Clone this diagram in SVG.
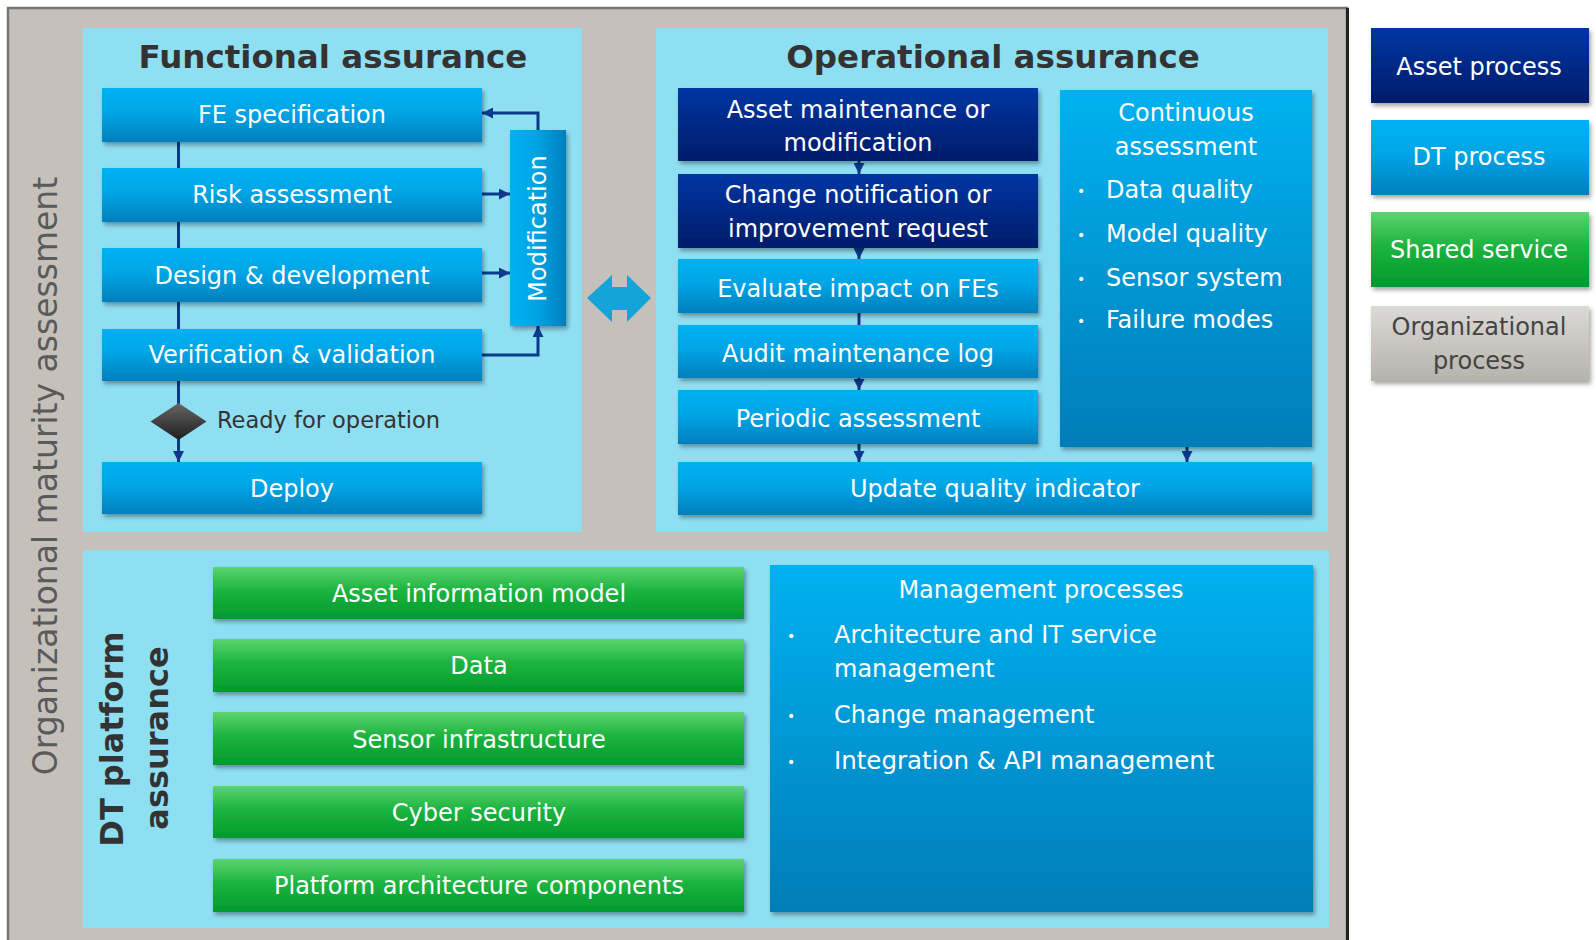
<svg xmlns="http://www.w3.org/2000/svg" width="1596" height="940" viewBox="0 0 1596 940">
<defs>
  <linearGradient id="gDT" x1="0" y1="0" x2="0" y2="1">
    <stop offset="0" stop-color="#00b2f1"/>
    <stop offset="0.45" stop-color="#00a5e6"/>
    <stop offset="1" stop-color="#007fbd"/>
  </linearGradient>
  <linearGradient id="gDTtall" x1="0" y1="0" x2="0" y2="1">
    <stop offset="0" stop-color="#00b1f0"/>
    <stop offset="1" stop-color="#007db8"/>
  </linearGradient>
  <linearGradient id="gDTh" x1="0" y1="0" x2="1" y2="0">
    <stop offset="0" stop-color="#00b2f1"/>
    <stop offset="0.45" stop-color="#00a5e6"/>
    <stop offset="1" stop-color="#007fbd"/>
  </linearGradient>
  <linearGradient id="gAsset" x1="0" y1="0" x2="0" y2="1">
    <stop offset="0" stop-color="#0036a3"/>
    <stop offset="1" stop-color="#001c6a"/>
  </linearGradient>
  <linearGradient id="gGreen" x1="0" y1="0" x2="0" y2="1">
    <stop offset="0" stop-color="#5cd470"/>
    <stop offset="0.45" stop-color="#1db43f"/>
    <stop offset="1" stop-color="#009a2e"/>
  </linearGradient>
  <linearGradient id="gGray" x1="0" y1="0" x2="0" y2="1">
    <stop offset="0" stop-color="#dcdad6"/>
    <stop offset="1" stop-color="#b6b2ac"/>
  </linearGradient>
  <linearGradient id="gDiamond" x1="0" y1="0" x2="0" y2="1">
    <stop offset="0" stop-color="#666"/>
    <stop offset="1" stop-color="#1e1e1e"/>
  </linearGradient>
  <filter id="sh" x="-10%" y="-10%" width="120%" height="130%">
    <feDropShadow dx="2" dy="3" stdDeviation="2" flood-color="#000" flood-opacity="0.35"/>
  </filter>
  <marker id="arr" viewBox="0 0 10 10" refX="10" refY="5" markerWidth="11" markerHeight="11" markerUnits="userSpaceOnUse" orient="auto">
    <path d="M0,0 L10,5 L0,10 z" fill="#0b3a8c"/>
  </marker>
</defs>
<style>
  .t{font-family:"DejaVu Sans",Verdana,sans-serif;font-size:24px;fill:#ffffff;text-anchor:middle}
  .tl{font-family:"DejaVu Sans",Verdana,sans-serif;font-size:24px;fill:#ffffff}
  .b{font-size:14px}
  .title{font-family:"DejaVu Sans",Verdana,sans-serif;font-size:32.5px;font-weight:bold;fill:#333333;text-anchor:middle}
  .dt{fill:url(#gDT);filter:url(#sh)}
  .tall{fill:url(#gDTtall);filter:url(#sh)}
  .asset{fill:url(#gAsset);filter:url(#sh)}
  .green{fill:url(#gGreen);filter:url(#sh)}
  .panel{fill:#8fdff2}
  .conn{fill:none;stroke:#0b3a8c;stroke-width:3}
</style>
<rect x="0" y="0" width="1596" height="940" fill="#ffffff"/>

<g id="outer">
  <rect x="8" y="8" width="1339" height="940" fill="#c5c1ba" stroke="#767676" stroke-width="2.5"/>
  <line x1="1347.5" y1="8" x2="1347.5" y2="940" stroke="#222" stroke-width="3"/>
  <text transform="translate(57,476) rotate(-90)" style="font-family:'DejaVu Sans',Verdana,sans-serif;font-size:33px;fill:#5a5a5a;text-anchor:middle">Organizational maturity assessment</text>
</g>

<g id="functional-panel">
  <rect class="panel" x="83" y="28" width="499" height="504"/>
  <text class="title" x="333" y="68">Functional assurance</text>
</g>
<g id="operational-panel">
  <rect class="panel" x="656" y="28" width="672" height="504"/>
  <text class="title" x="993" y="68">Operational assurance</text>
</g>
<g id="platform-panel">
  <rect class="panel" x="83" y="550" width="1246" height="378"/>
  <text class="title" transform="translate(123,739) rotate(-90)" style="font-size:32px">DT platform</text>
  <text class="title" transform="translate(168,738) rotate(-90)" style="font-size:32px">assurance</text>
</g>

<g id="connectors">
  <line class="conn" x1="178.5" y1="142" x2="178.5" y2="168"/>
  <line class="conn" x1="178.5" y1="222" x2="178.5" y2="248"/>
  <line class="conn" x1="178.5" y1="302" x2="178.5" y2="329"/>
  <line class="conn" x1="178.5" y1="381" x2="178.5" y2="404"/>
  <line class="conn" x1="178.5" y1="438" x2="178.5" y2="462" marker-end="url(#arr)"/>
  <path class="conn" d="M538,130 V113 H482" marker-end="url(#arr)"/>
  <path class="conn" d="M482,194 H510" marker-end="url(#arr)"/>
  <path class="conn" d="M482,273 H510" marker-end="url(#arr)"/>
  <path class="conn" d="M482,355 H538 V326" marker-end="url(#arr)"/>
  <line class="conn" x1="859" y1="161" x2="859" y2="174" marker-end="url(#arr)"/>
  <line class="conn" x1="859" y1="247" x2="859" y2="259" marker-end="url(#arr)"/>
  <line class="conn" x1="859" y1="312" x2="859" y2="325"/>
  <line class="conn" x1="859" y1="377" x2="859" y2="390" marker-end="url(#arr)"/>
  <line class="conn" x1="859" y1="443" x2="859" y2="462" marker-end="url(#arr)"/>
  <line class="conn" x1="1187" y1="446" x2="1187" y2="462" marker-end="url(#arr)"/>
  <polygon points="587,298 612,275 612,287 627,287 627,275 651,298 627,322 627,310 612,310 612,322" fill="#14a4da"/>
</g>

<g id="fe-spec"><rect class="dt" x="102" y="88" width="380" height="54"/><text class="t" x="292" y="123">FE specification</text></g>
<g id="risk"><rect class="dt" x="102" y="168" width="380" height="54"/><text class="t" x="292" y="203">Risk assessment</text></g>
<g id="design"><rect class="dt" x="102" y="248" width="380" height="54"/><text class="t" x="292" y="284">Design &amp; development</text></g>
<g id="vv"><rect class="dt" x="102" y="329" width="380" height="52"/><text class="t" x="292" y="363">Verification &amp; validation</text></g>
<g id="ready">
  <polygon points="150.5,421.5 178.5,403 206.5,421.5 178.5,440" fill="url(#gDiamond)"/>
  <text x="217" y="428" style="font-family:'DejaVu Sans',Verdana,sans-serif;font-size:22.5px;fill:#333">Ready for operation</text>
</g>
<g id="deploy"><rect class="dt" x="102" y="462" width="380" height="52"/><text class="t" x="292" y="497">Deploy</text></g>
<g id="modification">
  <rect x="510" y="130" width="56" height="196" fill="url(#gDTh)" filter="url(#sh)"/>
  <text class="t" transform="translate(546,228.5) rotate(-90)">Modification</text>
</g>

<g id="asset-maint"><rect class="asset" x="678" y="88" width="360" height="73"/><text class="t" x="858" y="118">Asset maintenance or</text><text class="t" x="858" y="151">modification</text></g>
<g id="change"><rect class="asset" x="678" y="174" width="360" height="74"/><text class="t" x="858" y="203">Change notification or</text><text class="t" x="858" y="237">improvement request</text></g>
<g id="evaluate"><rect class="dt" x="678" y="259" width="360" height="54"/><text class="t" x="858" y="297">Evaluate impact on FEs</text></g>
<g id="audit"><rect class="dt" x="678" y="325" width="360" height="53"/><text class="t" x="858" y="362">Audit maintenance log</text></g>
<g id="periodic"><rect class="dt" x="678" y="390" width="360" height="54"/><text class="t" x="858" y="427">Periodic assessment</text></g>
<g id="continuous">
  <rect class="tall" x="1060" y="90" width="252" height="357"/>
  <text class="t" x="1186" y="121">Continuous</text>
  <text class="t" x="1186" y="155">assessment</text>
  <g class="tl">
    <text class="b" x="1077" y="196">•</text><text x="1106" y="198">Data quality</text>
    <text class="b" x="1077" y="240">•</text><text x="1106" y="242">Model quality</text>
    <text class="b" x="1077" y="284">•</text><text x="1106" y="286">Sensor system</text>
    <text class="b" x="1077" y="326">•</text><text x="1106" y="328">Failure modes</text>
  </g>
</g>
<g id="update"><rect class="dt" x="678" y="462" width="634" height="53"/><text class="t" x="995" y="497">Update quality indicator</text></g>

<g id="aim"><rect class="green" x="213" y="567" width="531" height="52"/><text class="t" x="479" y="602">Asset information model</text></g>
<g id="data"><rect class="green" x="213" y="639" width="531" height="53"/><text class="t" x="479" y="674">Data</text></g>
<g id="sensor"><rect class="green" x="213" y="712" width="531" height="53"/><text class="t" x="479" y="748">Sensor infrastructure</text></g>
<g id="cyber"><rect class="green" x="213" y="786" width="531" height="52"/><text class="t" x="479" y="821">Cyber security</text></g>
<g id="platform"><rect class="green" x="213" y="859" width="531" height="53"/><text class="t" x="479" y="894">Platform architecture components</text></g>

<g id="management">
  <rect class="tall" x="770" y="565" width="543" height="347"/>
  <text class="t" x="1041" y="598">Management processes</text>
  <g class="tl">
    <text class="b" x="787" y="641">•</text><text x="834" y="643">Architecture and IT service</text>
    <text x="834" y="677">management</text>
    <text class="b" x="787" y="721">•</text><text x="834" y="723">Change management</text>
    <text class="b" x="787" y="767">•</text><text x="834" y="769" style="font-size:24.5px">Integration &amp; API management</text>
  </g>
</g>

<g id="legend-asset"><rect class="asset" x="1371" y="28" width="218" height="75"/><text class="t" x="1479" y="75">Asset process</text></g>
<g id="legend-dt"><rect class="dt" x="1371" y="120" width="218" height="75"/><text class="t" x="1479" y="165">DT process</text></g>
<g id="legend-shared"><rect class="green" x="1371" y="212" width="218" height="75"/><text class="t" x="1479" y="258">Shared service</text></g>
<g id="legend-org"><rect x="1371" y="306" width="218" height="75" fill="url(#gGray)" filter="url(#sh)"/><text class="t" x="1479" y="335" style="fill:#444">Organizational</text><text class="t" x="1479" y="369" style="fill:#444">process</text></g>
</svg>
